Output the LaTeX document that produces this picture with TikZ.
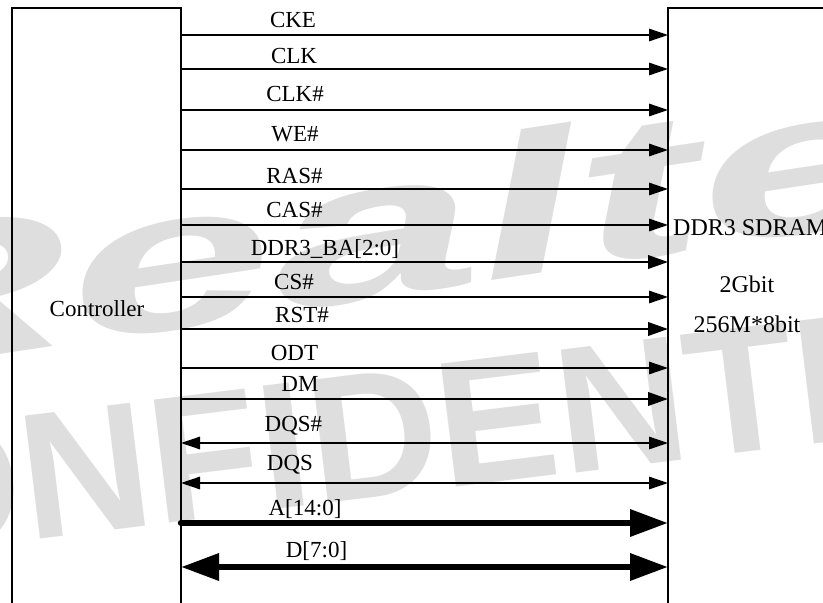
\documentclass[tikz,border=0pt]{standalone}
\usepackage{fontspec}
\setmainfont{Liberation Serif}
\newfontfamily\wmfont{Liberation Sans}
\usetikzlibrary{arrows.meta}
\definecolor{wmgray}{gray}{0.87}
\begin{document}
\begin{tikzpicture}[x=1pt,y=-1pt,
  lbl/.style={font=\fontsize{23}{23}\selectfont, anchor=base, inner sep=0pt},
  memlbl/.style={font=\fontsize{24}{24}\selectfont, anchor=base, inner sep=0pt},
  boxnode/.style={draw, line width=1.3pt, anchor=north west, inner sep=0pt, outer sep=0pt},
  wmtext/.style={text=wmgray, inner sep=0pt, anchor=base west},
  sig/.style={line width=1.4pt, -{Triangle[length=19pt,width=12.5pt]}},
  sigb/.style={line width=2.2pt, -{Triangle[length=20pt,width=13.5pt]}},
  bidi/.style={line width=1.4pt, {Triangle[length=19pt,width=12.5pt]}-{Triangle[length=19pt,width=12.5pt]}},
  bus/.style={line width=6.5pt, line cap=round, -{Triangle[length=38pt,width=26pt]}},
  busbi/.style={line width=6.5pt, {Triangle[length=38pt,width=26pt]}-{Triangle[length=38pt,width=26pt]}}
]
\useasboundingbox (0,0) rectangle (823,603);
\begin{scope}
\clip (0,0) rectangle (823,603);
% watermark
\node[wmtext, rotate=8.6, xscale=1.85, font=\wmfont\bfseries\itshape\fontsize{200}{200}\selectfont] (wm1) at (-186,383) {Realtek};
\node[wmtext, rotate=7, font=\wmfont\bfseries\fontsize{180}{180}\selectfont] (wm2) at (-240,573) {CONFIDENTIAL};
% boxes
\node[boxnode, minimum width=169pt, minimum height=640pt] (ctrl) at (12,8) {};
\node[boxnode, minimum width=200pt, minimum height=640pt] (mem) at (668,8) {};
\end{scope}
\node[lbl] (ctrltxt) at (97,316) {Controller};
\node[memlbl, anchor=base west] (memtxt1) at (673,235) {DDR3 SDRAM};
\node[memlbl] (memtxt2) at (747,292) {2Gbit};
\node[memlbl] (memtxt3) at (747,332) {256M*8bit};
% signals
\foreach \i/\y/\t/\lx/\ly/\st in {
  1/35/CKE/293/27/sig,
  2/69/CLK/294/63/sig,
  3/110/CLK\#/295/101/sig,
  4/150/WE\#/295/141/sig,
  5/189/RAS\#/294.5/183/sig,
  6/225/CAS\#/294.5/217/sig,
  7/262/DDR3\_BA[2:0]/325/255/sigb,
  8/297/CS\#/294/289/sig,
  9/329/RST\#/302/322/sigb,
  10/368/ODT/294.5/360/sig,
  11/399/DM/300/391/sigb,
  12/443/DQS\#/293.5/431/bidi,
  13/483/DQS/290/470/bidi,
  14/523/{A[14:0]}/305/515/bus,
  15/567/{D[7:0]}/316.5/557/busbi}{
  \coordinate (s\i) at (ctrl.east |- 0,\y);
  \coordinate (e\i) at (mem.west |- 0,\y);
  \draw[\st] (s\i) -- (e\i);
  \node[lbl] (l\i) at (\lx,\ly) {\t};
}
\end{tikzpicture}
\end{document}
